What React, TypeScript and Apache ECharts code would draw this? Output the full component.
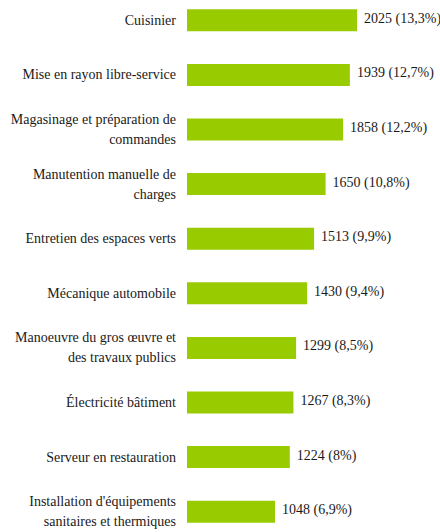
import React, { useEffect, useRef } from "react";
import * as echarts from "echarts";

const categories: string[] = [
  "Cuisinier",
  "Mise en rayon libre-service",
  "Magasinage et préparation de\ncommandes",
  "Manutention manuelle de\ncharges",
  "Entretien des espaces verts",
  "Mécanique automobile",
  "Manoeuvre du gros œuvre et\ndes travaux publics",
  "Électricité bâtiment",
  "Serveur en restauration",
  "Installation d'équipements\nsanitaires et thermiques",
];
const values: number[] = [2025, 1939, 1858, 1650, 1513, 1430, 1299, 1267, 1224, 1048];
const shares: string[] = ["13,3%", "12,7%", "12,2%", "10,8%", "9,9%", "9,4%", "8,5%", "8,3%", "8%", "6,9%"];

export default function App() {
  const ref = useRef<HTMLDivElement>(null);
  useEffect(() => {
    if (!ref.current) return;
    const chart = echarts.init(ref.current, undefined, { renderer: "svg" });
    const font = "Liberation Serif";
    chart.setOption({
      animation: false,
      grid: { left: 187, width: 252, top: 0, height: 546 },
      xAxis: {
        type: "value",
        min: 0,
        max: 3000,
        show: false,
      },
      yAxis: {
        type: "category",
        data: categories,
        inverse: true,
        axisLine: { show: false },
        axisTick: { show: false },
        splitLine: { show: false },
        axisLabel: {
          margin: 11,
          color: "#1a1a1a",
          align: "right",
          formatter: (v: string) => `{c|${v.split("\n").join("}\n{c|")}}`,
          rich: {
            c: { fontFamily: font, fontSize: 14, lineHeight: 20, color: "#1a1a1a", align: "right" },
          },
        },
      },
      series: [
        {
          type: "bar",
          data: values,
          barWidth: 22,
          itemStyle: { color: "#99CC00" },
          label: {
            show: true,
            position: "right",
            distance: 7,
            offset: [0, -2],
            color: "#1a1a1a",
            formatter: (p: any) => `{v|${p.value} (${shares[p.dataIndex]})}`,
            rich: {
              v: { fontFamily: font, fontSize: 14, color: "#1a1a1a" },
            },
          },
        },
      ],
    });
    return () => chart.dispose();
  }, []);
  return (
    <div
      ref={ref}
      style={{ position: "fixed", left: 0, top: -7, width: 440, height: 546, background: "#fff" }}
    />
  );
}
